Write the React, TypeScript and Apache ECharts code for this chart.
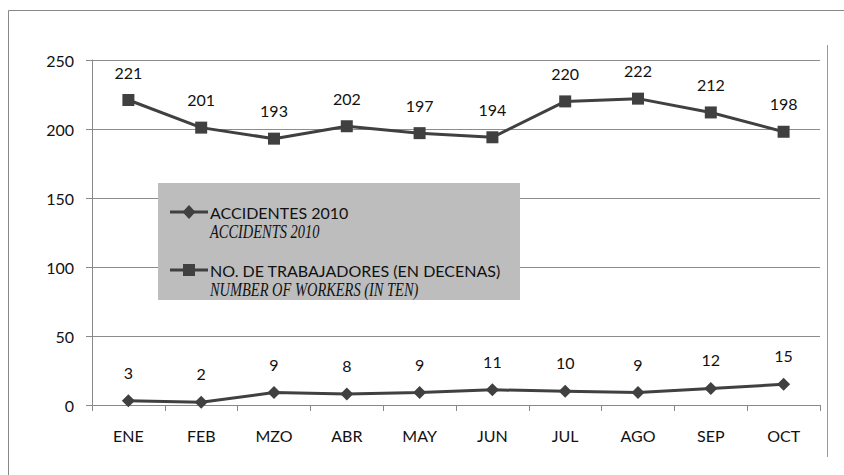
import React, { useEffect, useRef } from "react";
import * as echarts from "echarts";

const months = ["ENE", "FEB", "MZO", "ABR", "MAY", "JUN", "JUL", "AGO", "SEP", "OCT"];
const accidents = [3, 2, 9, 8, 9, 11, 10, 9, 12, 15];
const workers = [221, 201, 193, 202, 197, 194, 220, 222, 212, 198];
const yTicks = [0, 50, 100, 150, 200, 250];

const LINE = "#404040";
const FONT = "Lato, 'Open Sans', sans-serif";
const SERIF = "'Liberation Serif', serif";

export default function App() {
  const ref = useRef<HTMLDivElement>(null);
  useEffect(() => {
    const chart = echarts.init(ref.current!, null, { renderer: "svg" });
    const labelCfg = {
      show: true,
      position: "top" as const,
      distance: 14,
      color: "#111",
      fontSize: 16,
      fontFamily: FONT,
    };
    chart.setOption({
      animation: false,
      backgroundColor: "#fff",
      grid: { left: 92, right: 24, top: 60, bottom: 70 },
      xAxis: {
        type: "category",
        data: months,
        boundaryGap: true,
        axisLine: { lineStyle: { color: "#888", width: 1 } },
        axisTick: { show: true, length: 6, lineStyle: { color: "#888" } },
        axisLabel: { color: "#111", fontSize: 16, fontFamily: FONT, margin: 22 },
      },
      yAxis: {
        type: "value",
        min: yTicks[0],
        max: yTicks[yTicks.length - 1],
        interval: 50,
        axisLine: { show: true, lineStyle: { color: "#888", width: 1 } },
        axisTick: { show: true, length: 6, lineStyle: { color: "#888" } },
        axisLabel: { color: "#111", fontSize: 16, fontFamily: FONT, margin: 18 },
        splitLine: { show: true, lineStyle: { color: "#8c8c8c", width: 1 } },
      },
      series: [
        {
          name: "ACCIDENTES 2010",
          type: "line",
          data: accidents,
          symbol: "diamond",
          symbolSize: 13,
          itemStyle: { color: LINE },
          lineStyle: { color: LINE, width: 3 },
          label: labelCfg,
        },
        {
          name: "NO. DE TRABAJADORES (EN DECENAS)",
          type: "line",
          data: workers,
          symbol: "rect",
          symbolSize: 12,
          itemStyle: { color: LINE },
          lineStyle: { color: LINE, width: 3 },
          label: labelCfg,
        },
      ],
      graphic: [
        { type: "line", shape: { x1: 8.5, y1: 10.5, x2: 844, y2: 10.5 }, style: { stroke: "#888", lineWidth: 1 } },
        { type: "line", shape: { x1: 8.5, y1: 10.5, x2: 8.5, y2: 475 }, style: { stroke: "#888", lineWidth: 1 } },
        { type: "line", shape: { x1: 827.5, y1: 45, x2: 827.5, y2: 457 }, style: { stroke: "#999", lineWidth: 1 } },
        { type: "rect", shape: { x: 158, y: 183, width: 362, height: 117 }, style: { fill: "#bdbdbd" }, z: 10 },
        { type: "line", shape: { x1: 170, y1: 212, x2: 208, y2: 212 }, style: { stroke: LINE, lineWidth: 3 }, z: 11 },
        { type: "polygon", shape: { points: [[189, 205], [195.5, 212], [189, 219], [182.5, 212]] }, style: { fill: LINE }, z: 11 },
        { type: "text", x: 210, y: 212, style: { text: "ACCIDENTES 2010", fill: "#111", fontSize: 16, fontFamily: FONT, verticalAlign: "middle" }, z: 11 },
        { type: "text", x: 210, y: 232, scaleX: 0.76, style: { text: "ACCIDENTS 2010", fill: "#111", fontSize: 19, fontStyle: "italic", fontFamily: SERIF, verticalAlign: "middle" }, z: 11 },
        { type: "line", shape: { x1: 170, y1: 270, x2: 208, y2: 270 }, style: { stroke: LINE, lineWidth: 3 }, z: 11 },
        { type: "rect", shape: { x: 183, y: 264, width: 12, height: 12 }, style: { fill: LINE }, z: 11 },
        { type: "text", x: 210, y: 270, style: { text: "NO. DE TRABAJADORES (EN DECENAS)", fill: "#111", fontSize: 16, fontFamily: FONT, verticalAlign: "middle" }, z: 11 },
        { type: "text", x: 210, y: 290, scaleX: 0.76, style: { text: "NUMBER OF WORKERS (IN TEN)", fill: "#111", fontSize: 19, fontStyle: "italic", fontFamily: SERIF, verticalAlign: "middle" }, z: 11 },
      ],
    });
    return () => chart.dispose();
  }, []);
  return <div ref={ref} style={{ width: 844, height: 475, position: "absolute", left: 0, top: 0 }} />;
}
